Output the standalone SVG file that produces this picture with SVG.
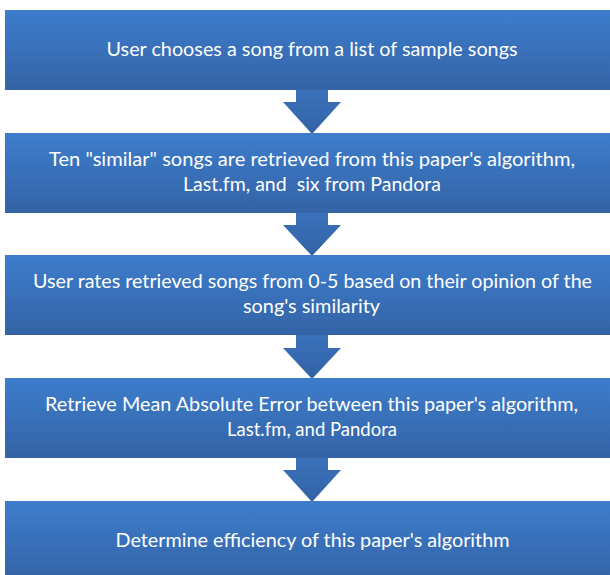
<svg xmlns="http://www.w3.org/2000/svg" width="610" height="575" viewBox="0 0 610 575">
<defs>
<linearGradient id="boxGrad" x1="0" y1="0" x2="0" y2="1">
<stop offset="0" stop-color="#3d7dcc"/>
<stop offset="1" stop-color="#3463a6"/>
</linearGradient>
<linearGradient id="arrGrad" x1="0" y1="0" x2="0" y2="1">
<stop offset="0" stop-color="#3a72bb"/>
<stop offset="1" stop-color="#3362a5"/>
</linearGradient>
<style>
.box{fill:url(#boxGrad);}
.arr{fill:url(#arrGrad);}
.t{font-family:Lato,"Liberation Sans",sans-serif;font-size:18.5px;fill:#ffffff;text-anchor:middle;}
</style>
</defs>
<rect width="610" height="575" fill="#ffffff"/>
<g id="connectors">
<polygon class="arr" points="296,88 328,88 328,102 341,102 312,134 283,102 296,102"/>
<polygon class="arr" points="296,211 328,211 328,225 341,225 312,256 283,225 296,225"/>
<polygon class="arr" points="296,333 328,333 328,348 341,348 312,379 283,348 296,348"/>
<polygon class="arr" points="296,456 328,456 328,470 341,470 312,502 283,470 296,470"/>
</g>
<g id="node1">
<rect class="box" x="5" y="10" width="605" height="80"/>
<text class="t" x="312" y="56" textLength="411" lengthAdjust="spacingAndGlyphs">User chooses a song from a list of sample songs</text>
</g>
<g id="node2">
<rect class="box" x="5" y="133" width="605" height="80"/>
<text class="t" x="312" y="166" textLength="526" lengthAdjust="spacingAndGlyphs">Ten "similar" songs are retrieved from this paper's algorithm,</text>
<text class="t" x="312" y="191" textLength="258" lengthAdjust="spacingAndGlyphs" xml:space="preserve">Last.fm, and  six from Pandora</text>
</g>
<g id="node3">
<rect class="box" x="5" y="255" width="605" height="80"/>
<text class="t" x="312.5" y="288" textLength="559" lengthAdjust="spacingAndGlyphs">User rates retrieved songs from 0-5 based on their opinion of the</text>
<text class="t" x="311.5" y="313" textLength="137" lengthAdjust="spacingAndGlyphs">song's similarity</text>
</g>
<g id="node4">
<rect class="box" x="5" y="378" width="605" height="80"/>
<text class="t" x="311.5" y="411" textLength="533" lengthAdjust="spacingAndGlyphs">Retrieve Mean Absolute Error between this paper's algorithm,</text>
<text class="t" x="312" y="436" textLength="170" lengthAdjust="spacingAndGlyphs">Last.fm, and Pandora</text>
</g>
<g id="node5">
<rect class="box" x="5" y="501" width="605" height="80"/>
<text class="t" x="312.5" y="547" textLength="394" lengthAdjust="spacingAndGlyphs">Determine efficiency of this paper's algorithm</text>
</g>
</svg>
